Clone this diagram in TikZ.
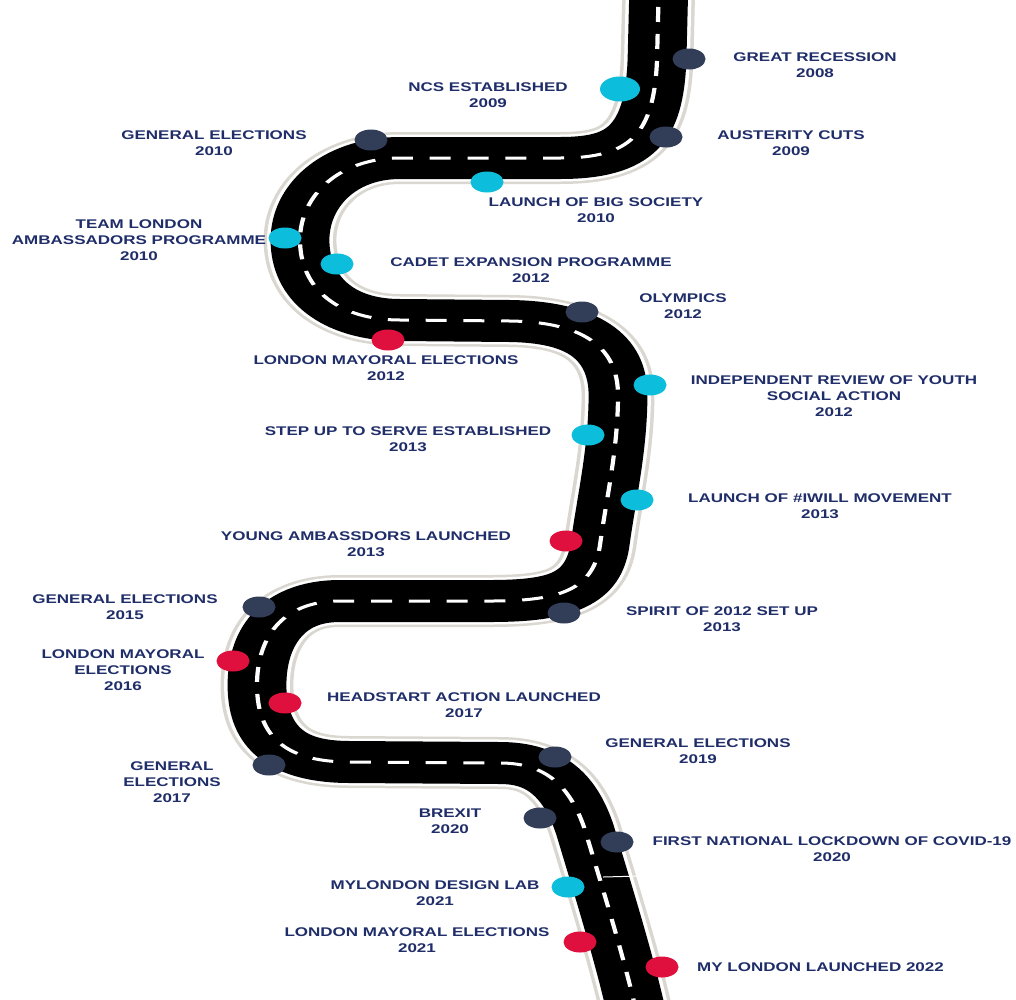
\documentclass[tikz,border=0pt]{standalone}
\usepackage{fontspec}
\setmainfont{Liberation Sans}
\usepackage{graphicx}
\usetikzlibrary{shapes.geometric}
\definecolor{txt}{RGB}{31,45,105}
\definecolor{navydot}{RGB}{50,61,88}
\definecolor{cyandot}{RGB}{12,190,220}
\definecolor{reddot}{RGB}{224,16,62}
\definecolor{roadedge}{RGB}{218,214,208}
\newcommand\lbl[1]{\scalebox{1.35}[1]{\fontsize{12.6}{16}\selectfont\bfseries\begin{tabular}{@{}c@{}}#1\end{tabular}}}
\newcommand\roadpath{(659,-20) -- (657,60)
  .. controls (654,135) and (630,158) .. (560,158)
  -- (400,158)
  .. controls (340,158) and (300,195) .. (300,240)
  .. controls (300,290) and (340,320) .. (400,320)
  -- (510,321)
  .. controls (580,322) and (618,345) .. (618,395)
  .. controls (618,450) and (606,500) .. (600,545)
  .. controls (593,590) and (560,601) .. (490,601)
  -- (340,601)
  .. controls (280,601) and (257,640) .. (257,685)
  .. controls (257,740) and (290,762) .. (350,762)
  -- (500,763)
  .. controls (545,763) and (570,785) .. (585,830)
  .. controls (600,880) and (625,960) .. (637,1015)}
\tikzset{
  lab/.style={text=txt, inner sep=0pt},
  mdot/.style={ellipse, inner sep=0pt, minimum width=33pt, minimum height=21pt},
  dn/.style={mdot, fill=navydot},
  dc/.style={mdot, fill=cyandot},
  dr/.style={mdot, fill=reddot}
}
\begin{document}
\begin{tikzpicture}[x=1pt,y=-1pt]
\useasboundingbox[fill=white] (0,0) rectangle (1016,999);
\begin{scope}[x=0.714286pt, y=-1pt, transform canvas={xscale=1.4}]
  \draw[roadedge, line width=52pt] \roadpath;
  \draw[white, line width=47pt] \roadpath;
  \draw[black, line width=42pt] \roadpath;
  \draw[white, line width=3pt, dash pattern=on 15pt off 12pt] \roadpath;
\end{scope}
\coordinate (c1) at (603,877);
\coordinate (c2) at (641,876);
\draw[white, line width=1pt] (c1) -- (c2);
% dots
\node[dn] (d1) at (689,59) {};
\node[dc, minimum width=40pt, minimum height=25pt] (d2) at (620,89) {};
\node[dn] (d3) at (666,137) {};
\node[dn] (d4) at (371,140) {};
\node[dc] (d5) at (487,182) {};
\node[dc] (d6) at (285,238) {};
\node[dc] (d7) at (337,264) {};
\node[dn] (d8) at (582,312) {};
\node[dr] (d9) at (388,340) {};
\node[dc] (d10) at (650,385) {};
\node[dc] (d11) at (588,435) {};
\node[dc] (d12) at (637,500) {};
\node[dr] (d13) at (566,541) {};
\node[dn] (d14) at (259,607) {};
\node[dn] (d15) at (564,613) {};
\node[dr] (d16) at (233,661) {};
\node[dr] (d17) at (285,703) {};
\node[dn] (d18) at (269,765) {};
\node[dn] (d19) at (555,757) {};
\node[dn] (d20) at (540,818) {};
\node[dn] (d21) at (617,842) {};
\node[dc] (d22) at (568,887) {};
\node[dr] (d23) at (580,942) {};
\node[dr] (d24) at (662,967) {};
% labels
\node[lab] (t1) at (815,66.3) {\lbl{GREAT RECESSION\\2008}};
\node[lab] (t2) at (488,96.3) {\lbl{NCS ESTABLISHED\\2009}};
\node[lab] (t3) at (214,144.3) {\lbl{GENERAL ELECTIONS\\2010}};
\node[lab] (t4) at (791,144.3) {\lbl{AUSTERITY CUTS\\2009}};
\node[lab] (t5) at (596,211.3) {\lbl{LAUNCH OF BIG SOCIETY\\2010}};
\node[lab] (t6) at (139,241.3) {\lbl{TEAM LONDON\\AMBASSADORS PROGRAMME\\2010}};
\node[lab] (t7) at (531,271.3) {\lbl{CADET EXPANSION PROGRAMME\\2012}};
\node[lab] (t8) at (683,307.3) {\lbl{OLYMPICS\\2012}};
\node[lab] (t9) at (386,369.3) {\lbl{LONDON MAYORAL ELECTIONS\\2012}};
\node[lab] (t10) at (834,397.3) {\lbl{INDEPENDENT REVIEW OF YOUTH\\SOCIAL ACTION\\2012}};
\node[lab] (t11) at (408,440.3) {\lbl{STEP UP TO SERVE ESTABLISHED\\2013}};
\node[lab] (t12) at (820,507.3) {\lbl{LAUNCH OF \#IWILL MOVEMENT\\2013}};
\node[lab] (t13) at (366,545.3) {\lbl{YOUNG AMBASSDORS LAUNCHED\\2013}};
\node[lab] (t14) at (125,608.3) {\lbl{GENERAL ELECTIONS\\2015}};
\node[lab] (t15) at (722,620.3) {\lbl{SPIRIT OF 2012 SET UP\\2013}};
\node[lab] (t16) at (123,671.3) {\lbl{LONDON MAYORAL\\ELECTIONS\\2016}};
\node[lab] (t17) at (464,706.3) {\lbl{HEADSTART ACTION LAUNCHED\\2017}};
\node[lab] (t18) at (172,783.3) {\lbl{GENERAL\\ELECTIONS\\2017}};
\node[lab] (t19) at (698,752.3) {\lbl{GENERAL ELECTIONS\\2019}};
\node[lab] (t20) at (450,822.3) {\lbl{BREXIT\\2020}};
\node[lab] (t21) at (832,850.3) {\lbl{FIRST NATIONAL LOCKDOWN OF COVID-19\\2020}};
\node[lab] (t22) at (435,894.3) {\lbl{MYLONDON DESIGN LAB\\2021}};
\node[lab] (t23) at (417,941.3) {\lbl{LONDON MAYORAL ELECTIONS\\2021}};
\node[lab, anchor=west] (t24) at (697,968.3) {\lbl{MY LONDON LAUNCHED 2022}};
\end{tikzpicture}
\end{document}
